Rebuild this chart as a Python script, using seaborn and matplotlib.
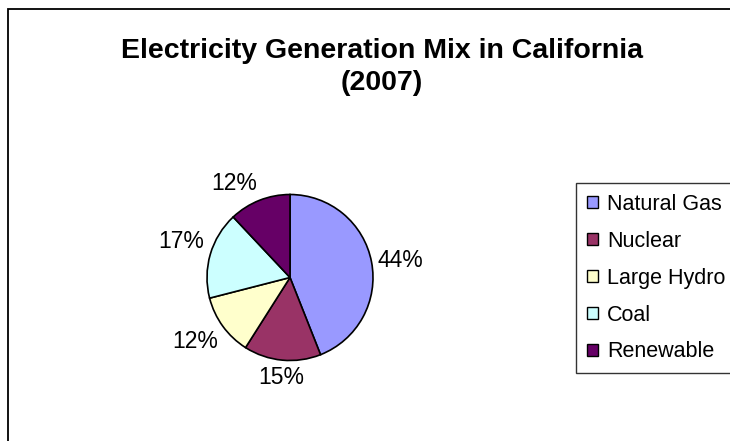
import matplotlib
matplotlib.use("Agg")
import matplotlib.pyplot as plt
import numpy as np
import seaborn as sns
from matplotlib.patches import Rectangle

# Generation shares, 2007 (percent)
sources = ["Natural Gas", "Nuclear", "Large Hydro", "Coal", "Renewable"]
shares = [44, 15, 12, 17, 12]
colors = ["#9999FF", "#993366", "#FFFFCC", "#CCFFFF", "#660066"]
title = "Electricity Generation Mix in California\n(2007)"

sns.set_theme(style="white")
plt.rcParams["font.family"] = ["Liberation Sans", "DejaVu Sans"]
plt.rcParams["text.color"] = "black"

W, H = 730, 441
fig = plt.figure(figsize=(W / 100, H / 100), dpi=100)
fig.patch.set_facecolor("white")

# outer chart frame (runs off the right and bottom edges)
fig.patches.append(Rectangle((8 / W, -0.05), 1.2, 1 - 9 / H + 0.05,
                             transform=fig.transFigure, fill=False,
                             edgecolor="black", linewidth=1.3, zorder=0))

# pie axes: centre (290, 277) px, radius 83 px
cx, cy, r = 290, 277.5, 83
ax = fig.add_axes([(cx - r) / W, (H - cy - r) / H, 2 * r / W, 2 * r / H])
palette = sns.color_palette(colors)
wedges, _ = ax.pie(shares, colors=palette, startangle=90, counterclock=False,
                   wedgeprops=dict(edgecolor="black", linewidth=1.2),
                   radius=1.0)
ax.set_xlim(-1, 1)
ax.set_ylim(-1, 1)
ax.set_aspect("equal")
ax.axis("off")


def side(x, tol=0.2):
    """-1/0/+1: which way a label box hangs off its anchor point."""
    return 0.0 if abs(x) < tol else np.sign(x)


# percentage labels: anchored just outside the rim at the wedge mid-angle,
# box hanging away from the pie
fig.canvas.draw()
renderer = fig.canvas.get_renderer()
anchor = r + 6  # px from centre
for w, v in zip(wedges, shares):
    theta = np.deg2rad((w.theta1 + w.theta2) / 2)
    t = ax.text(0, 0, f"{v}%", fontsize=16.5, ha="center", va="center",
                color="black")
    bb = t.get_window_extent(renderer)
    hw, hh = bb.width / 2, bb.height / 2
    px = anchor * np.cos(theta) + hw * side(np.cos(theta))
    py = anchor * np.sin(theta) + hh * side(np.sin(theta))
    t.set_position((px / r, py / r))

fig.text(382 / W, 1 - 66.5 / H, title, ha="center", va="center",
         fontsize=20.5, fontweight="bold", linespacing=1.3, color="black")

leg = fig.legend(wedges, sources, loc="upper left",
                 bbox_to_anchor=(576 / W, 1 - 183 / H),
                 fontsize=15.5, frameon=True, fancybox=False, shadow=False,
                 handlelength=0.53, handleheight=0.53, handletextpad=0.4,
                 labelspacing=0.74, borderpad=0.5, borderaxespad=0)
leg.get_frame().set_edgecolor("black")
leg.get_frame().set_linewidth(1.0)
for h in leg.legend_handles:
    h.set_edgecolor("black")
    h.set_linewidth(1.0)
for txt in leg.get_texts():
    txt.set_color("black")

fig.savefig("out.png", dpi=100)
